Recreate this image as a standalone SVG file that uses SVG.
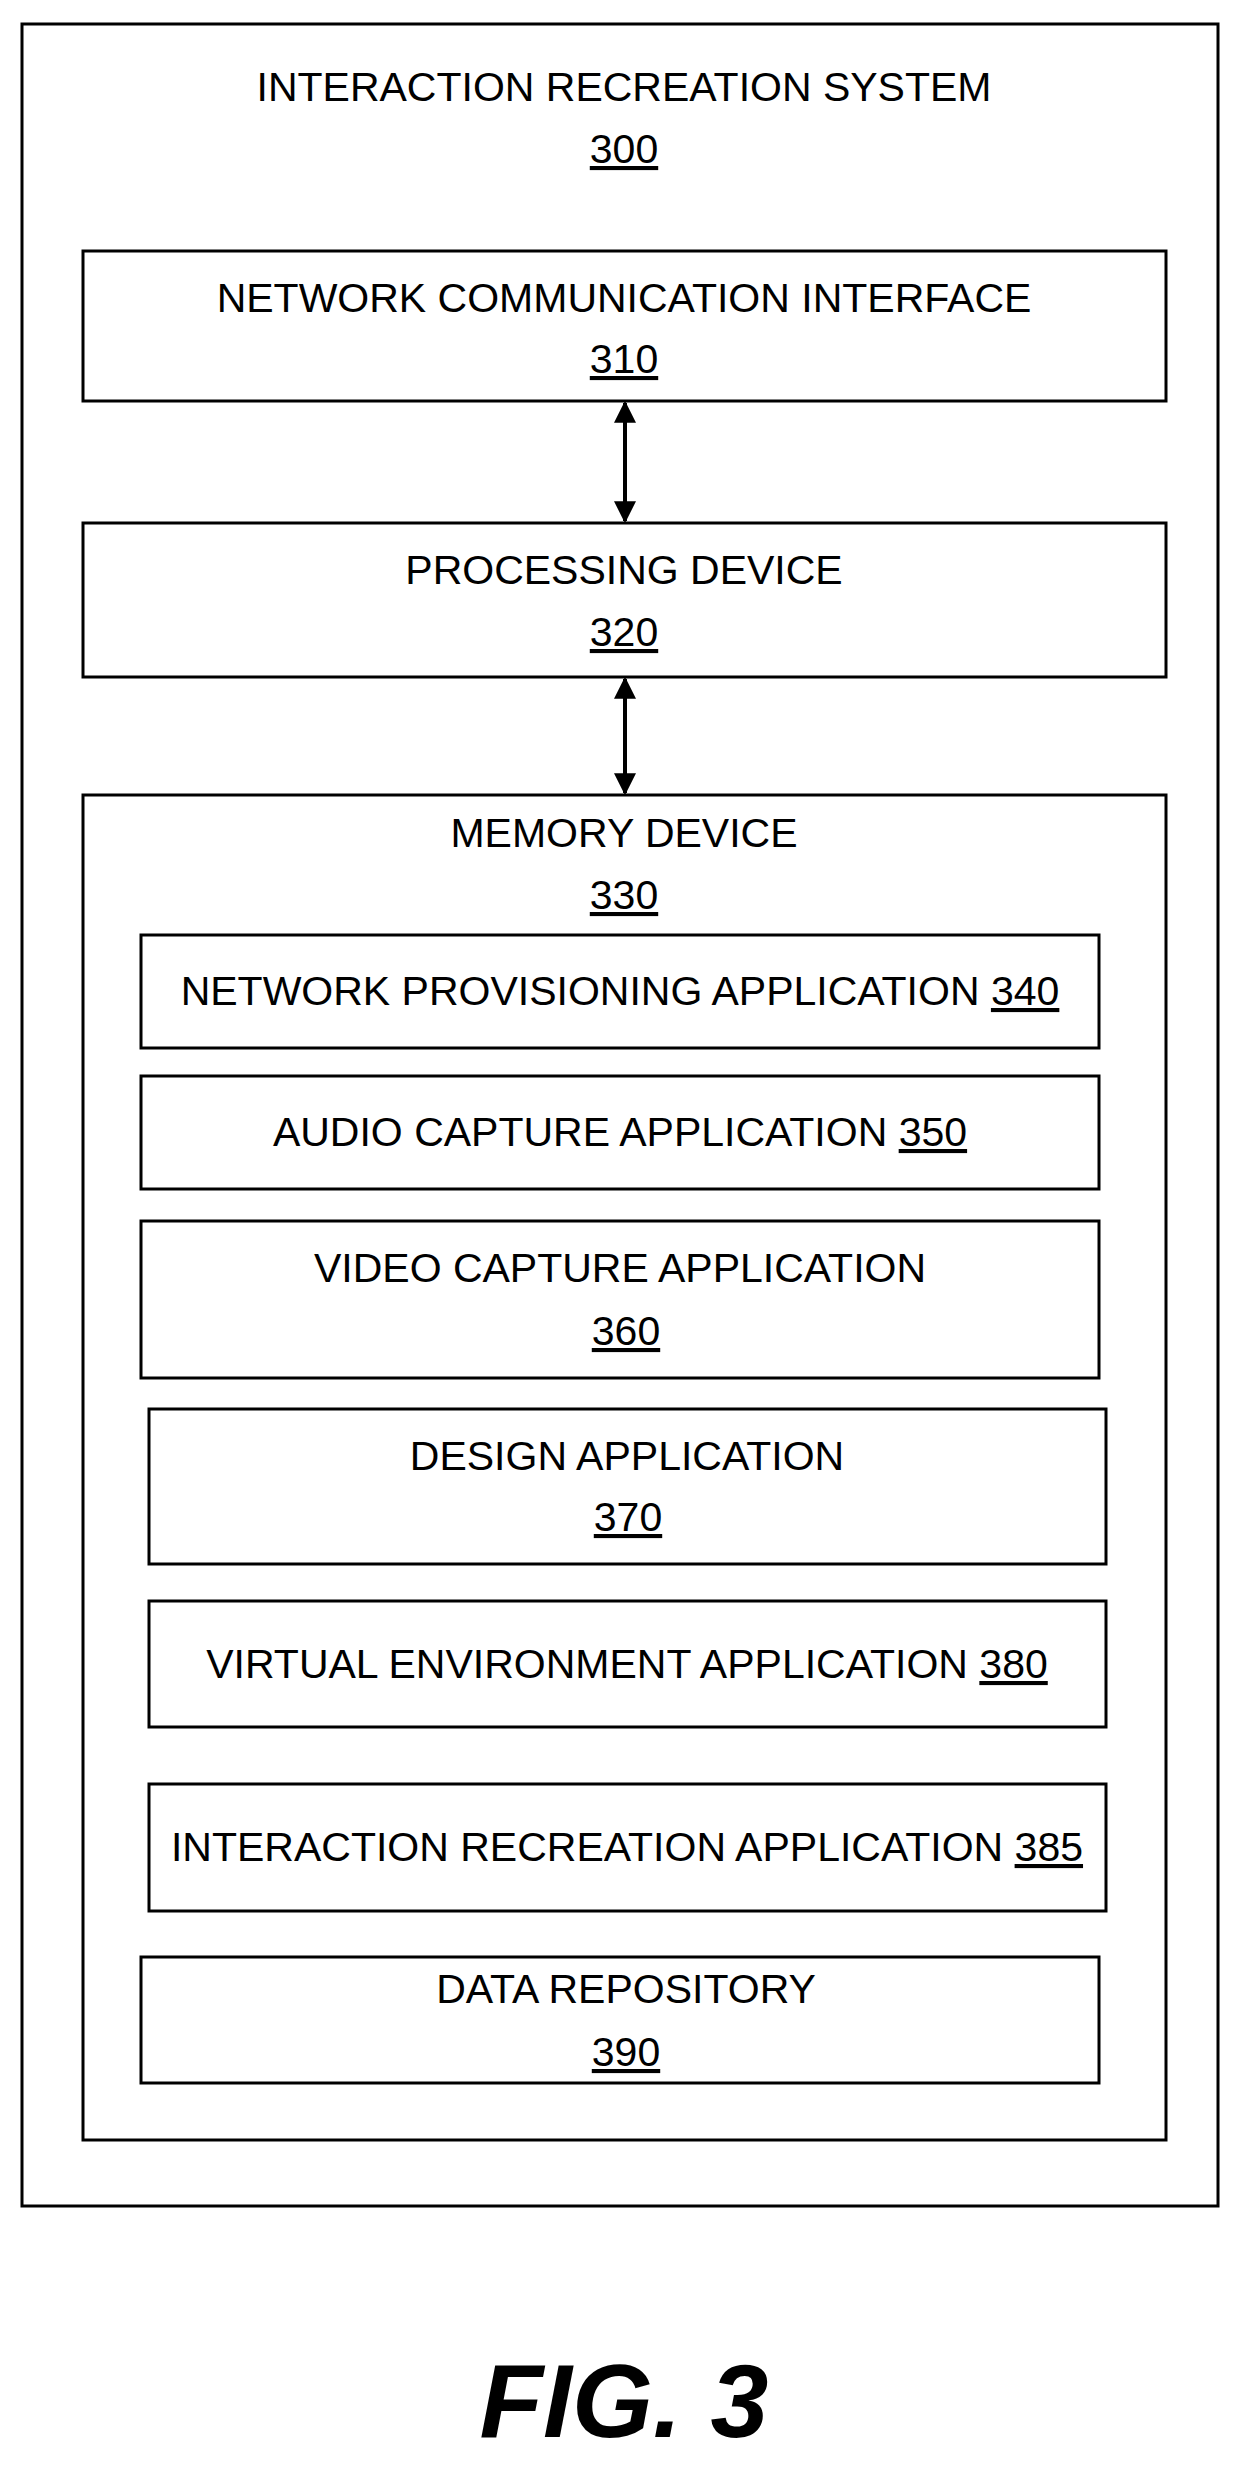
<svg xmlns="http://www.w3.org/2000/svg" width="1246" height="2467" viewBox="0 0 1246 2467">
<defs>
<style>
rect{fill:#fff;stroke:#000;stroke-width:3}
text{font-family:"Liberation Sans",Arial,sans-serif;font-size:41px;text-anchor:middle;fill:#000}
.u{text-decoration:underline}
line{stroke:#000;stroke-width:4}
</style>
<marker id="a" viewBox="0 0 10 10" refX="9" refY="5" markerWidth="26" markerHeight="22" markerUnits="userSpaceOnUse" orient="auto-start-reverse"><path d="M0,0L10,5L0,10z" fill="#000"/></marker>
</defs>
<rect width="1246" height="2467" style="stroke:none"/>
<g id="n300"><rect x="22" y="24" width="1196" height="2182"/><text x="624" y="101">INTERACTION RECREATION SYSTEM</text><text x="624" y="163" class="u">300</text></g>
<g id="n310"><rect x="83" y="251" width="1083" height="150"/><text x="624" y="312">NETWORK COMMUNICATION INTERFACE</text><text x="624" y="373" class="u">310</text></g>
<g id="n320"><rect x="83" y="523" width="1083" height="154"/><text x="624" y="584">PROCESSING DEVICE</text><text x="624" y="646" class="u">320</text></g>
<g id="n330"><rect x="83" y="795" width="1083" height="1345"/><text x="624" y="847">MEMORY DEVICE</text><text x="624" y="909" class="u">330</text></g>
<g id="n340"><rect x="141" y="935" width="958" height="113"/><text x="620" y="1005">NETWORK PROVISIONING APPLICATION <tspan class="u">340</tspan></text></g>
<g id="n350"><rect x="141" y="1076" width="958" height="113"/><text x="620" y="1146">AUDIO CAPTURE APPLICATION <tspan class="u">350</tspan></text></g>
<g id="n360"><rect x="141" y="1221" width="958" height="157"/><text x="620" y="1282">VIDEO CAPTURE APPLICATION</text><text x="626" y="1345" class="u">360</text></g>
<g id="n370"><rect x="149" y="1409" width="957" height="155"/><text x="627" y="1470">DESIGN APPLICATION</text><text x="628" y="1531" class="u">370</text></g>
<g id="n380"><rect x="149" y="1601" width="957" height="126"/><text x="627" y="1678">VIRTUAL ENVIRONMENT APPLICATION <tspan class="u">380</tspan></text></g>
<g id="n385"><rect x="149" y="1784" width="957" height="127"/><text x="627" y="1861">INTERACTION RECREATION APPLICATION <tspan class="u">385</tspan></text></g>
<g id="n390"><rect x="141" y="1957" width="958" height="126"/><text x="626" y="2003">DATA REPOSITORY</text><text x="626" y="2066" class="u">390</text></g>
<g id="connectors"><line x1="625" y1="403" x2="625" y2="521" marker-start="url(#a)" marker-end="url(#a)"/><line x1="625" y1="679" x2="625" y2="793" marker-start="url(#a)" marker-end="url(#a)"/></g>
<text x="624" y="2437" style="font-size:104px;font-style:italic;font-weight:bold">FIG. 3</text>
</svg>
